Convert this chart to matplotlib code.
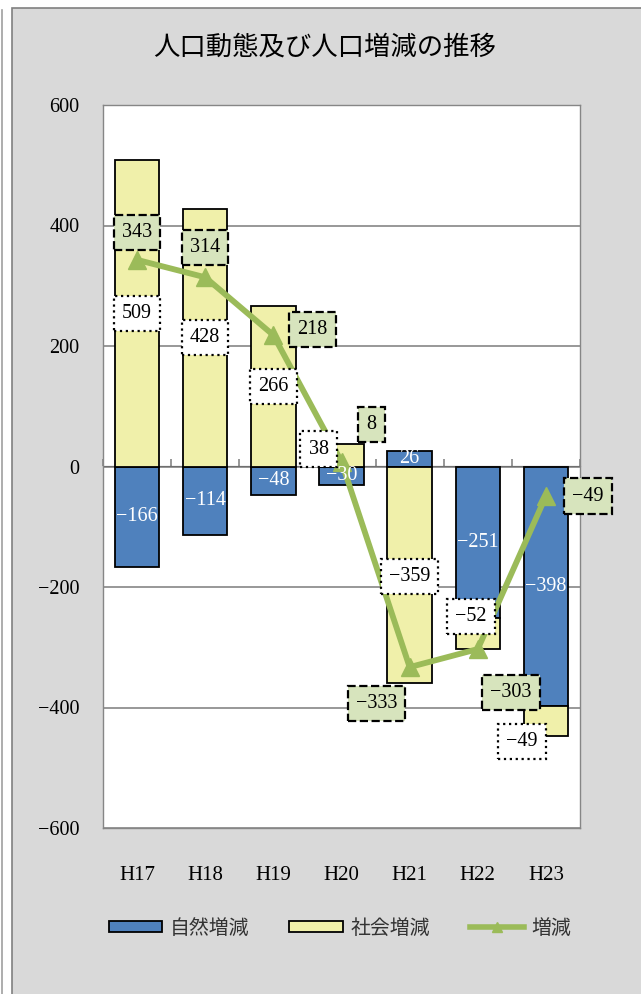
import matplotlib.pyplot as plt
from matplotlib.patches import Rectangle, Patch
from matplotlib.lines import Line2D
import numpy as np

plt.rcParams['font.family'] = ['Noto Sans CJK JP', 'DejaVu Sans']

years = ['H17', 'H18', 'H19', 'H20', 'H21', 'H22', 'H23']
natural = [-166, -114, -48, -30, 26, -251, -398]   # 自然増減
social = [509, 428, 266, 38, -359, -52, -49]       # 社会増減
total = [343, 314, 218, 8, -333, -303, -49]        # 増減

# label offsets in pixels (dx, dy)
social_off = [(0, 0), (0, 0), (0, 0), (-23, 6), (0, -2), (-7, 17), (-24, -20)]
total_off = [(0, 27), (0, 30), (39, 6), (30, 37), (-33, -36), (33, -43), (42, 0)]

BLUE = '#4F81BD'
YELLOW = '#F0F0AA'
GREEN = '#9BBB59'
LGREEN = '#D7E4BD'
SERIF = 'Liberation Serif'

fig = plt.figure(figsize=(6.41, 9.94), dpi=100)
fig.patch.set_facecolor('white')
W, H = 641, 994
fig.patches.append(Rectangle((12 / W, -0.01), 1.0, 1 - 8 / H + 0.01, transform=fig.transFigure,
                             facecolor='#D9D9D9', edgecolor='#808080', lw=1.2, zorder=-10))
fig.add_artist(Line2D([1.5 / W, 1.5 / W], [0, 1 - 10 / H], color='#A0A0A0', lw=1.2))

ax = fig.add_axes([103 / W, 1 - 828 / H, 477 / W, 723 / H])
ax.set_facecolor('white')

x = np.arange(len(years))
nat = np.array(natural)
soc = np.array(social)
bottom_soc = np.where(np.sign(soc) == np.sign(nat), nat, 0)
bw = 0.65

ax.bar(x, nat, bw, color=BLUE, edgecolor='black', lw=1.3, zorder=3)
ax.bar(x, soc, bw, bottom=bottom_soc, color=YELLOW, edgecolor='black', lw=1.3, zorder=3)
ax.plot(x, total, color=GREEN, lw=4.2, marker='^', ms=13, zorder=5)

px = 0.72  # points per pixel
LBL = 14.5

def fmt(v):
    return str(v).replace('-', '\u2212')

for i in range(len(x)):
    ax.text(x[i], nat[i] / 2, fmt(nat[i]), ha='center', va='center', color='white',
            family=SERIF, fontsize=LBL, zorder=6)
    dx, dy = social_off[i]
    ax.annotate(fmt(soc[i]), (x[i], bottom_soc[i] + soc[i] / 2), xytext=(dx * px, dy * px),
                textcoords='offset points', ha='center', va='center', family=SERIF, fontsize=LBL,
                zorder=7, bbox=dict(boxstyle='square,pad=0.4', fc='white', ec='black', ls=':', lw=1.6))
    dx, dy = total_off[i]
    ax.annotate(fmt(total[i]), (x[i], total[i]), xytext=(dx * px, dy * px),
                textcoords='offset points', ha='center', va='center', family=SERIF, fontsize=LBL,
                zorder=8, bbox=dict(boxstyle='square,pad=0.4', fc=LGREEN, ec='black', ls='--', lw=1.6))

ax.set_xlim(-0.5, len(years) - 0.5)
ax.set_ylim(-600, 600)
ax.set_yticks(range(-600, 601, 200))
ax.set_yticklabels([fmt(v) for v in range(-600, 601, 200)], family=SERIF, fontsize=14.5)
ax.set_xticks(x)
ax.set_xticklabels(years, family=SERIF, fontsize=15)
ax.tick_params(axis='y', length=0, pad=17)
ax.tick_params(axis='x', length=0, pad=27)
ax.grid(axis='y', color='#868686', lw=1.2, zorder=0)
for s in ax.spines.values():
    s.set_color('#868686')
    s.set_linewidth(1.0)

# category axis drawn on the zero line
sec = ax.secondary_xaxis(0.5)
sec.set_xticks(np.arange(-0.5, len(years), 1.0))
sec.set_xticklabels([])
sec.tick_params(length=5, color='#868686', width=1.2, direction='out')
sec.spines['bottom'].set_color('#868686')
sec.spines['bottom'].set_linewidth(1.5)

fig.text(325 / W, 1 - 47 / H, '人口動態及び人口増減の推移', ha='center', va='center', fontsize=19)

handles = [Patch(facecolor=BLUE, edgecolor='black', lw=1.3),
           Patch(facecolor=YELLOW, edgecolor='black', lw=1.3),
           Line2D([], [], color=GREEN, lw=4, marker='^', ms=7)]
fig.legend(handles, ['自然増減', '社会増減', '増減'], loc='center', bbox_to_anchor=(340 / W, 1 - 928 / H),
           ncol=3, frameon=False, fontsize=14.3, handlelength=2.7, handleheight=0.45,
           columnspacing=2.0, handletextpad=0.4, labelcolor='#333333')

fig.savefig('out.png', dpi=100, facecolor=fig.get_facecolor())
